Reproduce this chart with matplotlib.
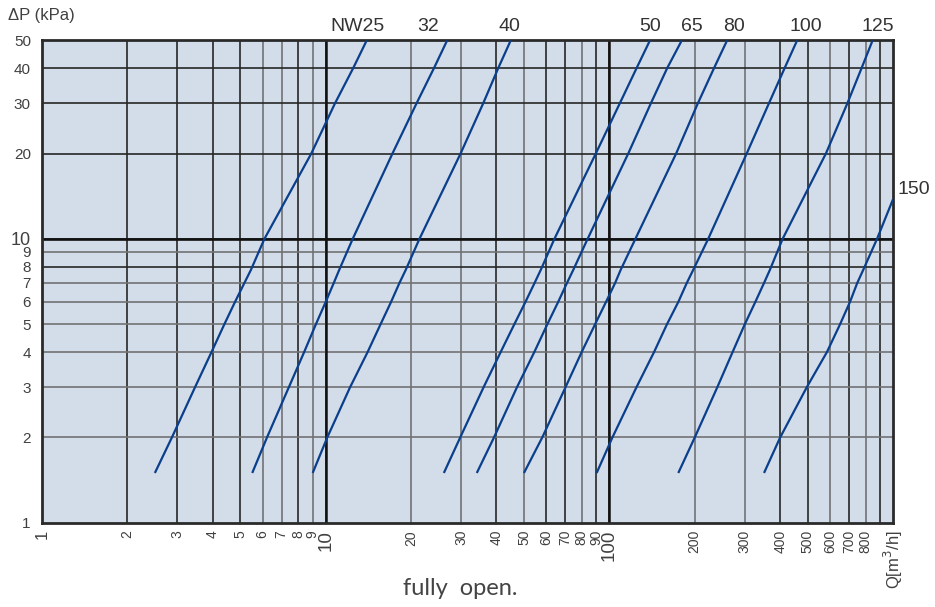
import numpy as np
import matplotlib.pyplot as plt

plt.rcParams['font.family'] = ['Liberation Sans', 'DejaVu Sans']

# pressure drop (kPa) along each curve and flow Q (m3/h)
dp_std = [1.5, 2, 3, 4, 5, 6, 7, 7.78, 10, 20, 30, 40, 50]
q_nw25 = [2.50, 2.87, 3.46, 3.96, 4.39, 4.79, 5.17, 5.45, 6.08, 8.90, 10.78, 12.51, 13.95]
q_nw32 = [5.51, 6.21, 7.41, 8.40, 9.23, 10.0, 10.68, 11.16, 12.45, 17.2, 20.9, 24.1, 26.8]
q_nw40 = [9.0, 10.13, 12.18, 14.06, 15.6, 17.0, 18.2, 19.15, 21.4, 29.9, 35.9, 40.6, 44.9]
q_nw50 = [26.1, 29.8, 36.0, 41.4, 46.2, 50.6, 54.5, 57.3, 64.0, 89.6, 108.8, 124.8, 139]
q_nw65 = [34.1, 39.2, 47.2, 54.4, 60.4, 66.0, 70.9, 74.6, 83.8, 116.6, 140, 160, 180]
q_nw80 = [50.0, 58.0, 70.0, 79.9, 89.0, 97.3, 104.8, 109.6, 123.5, 172, 205, 234, 260]
q_nw100 = [90.2, 102.5, 124.5, 143.8, 159.5, 175, 187.5, 197.5, 223, 305, 365, 415, 459]
q_nw125 = [175, 200, 240, 272, 300, 327, 351, 368, 408, 580, 690, 775, 847]
dp_150 = [1.5, 2, 3, 4, 5, 6, 7, 7.78, 10, 13.8]
q_nw150 = [351, 400, 496, 585, 650, 705, 748, 785, 878, 1000]

names = ["NW25", "32", "40", "50", "65", "80", "100", "125", "150"]
series = [(dp_std, q_nw25), (dp_std, q_nw32), (dp_std, q_nw40), (dp_std, q_nw50),
          (dp_std, q_nw65), (dp_std, q_nw80), (dp_std, q_nw100), (dp_std, q_nw125),
          (dp_150, q_nw150)]

x_ticks = [1, 2, 3, 4, 5, 6, 7, 8, 9, 10, 20, 30, 40, 50, 60, 70, 80, 90,
           100, 200, 300, 400, 500, 600, 700, 800, 900, 1000]
x_labels = ["1", "2", "3", "4", "5", "6", "7", "8", "9", "10", "20", "30", "40", "50",
            "60", "70", "80", "90", "100", "200", "300", "400", "500", "600", "700",
            "800", "", "Q[m$^3$/h]"]
y_ticks = [1, 2, 3, 4, 5, 6, 7, 8, 9, 10, 20, 30, 40, 50]
y_labels = ["1", "2", "3", "4", "5", "6", "7", "8", "9", "10", "20", "30", "40", "50"]

fig = plt.figure(figsize=(9.35, 6.07), dpi=100)
ax = fig.add_axes([0.0449, 0.1384, 0.9102, 0.7949])
ax.set_xscale('log')
ax.set_yscale('log')
ax.set_xlim(1, 1000)
ax.set_ylim(1, 50)
ax.set_facecolor('#d3ddea')

# grid
dark = '#262626'
grey = '#727272'
x_grey = [6, 7, 9, 20, 30, 50, 80, 200, 300, 600, 800]
y_grey = [2, 3, 4, 5, 6, 7, 9]
for v in x_ticks[1:-1]:
    ax.axvline(v, color=grey if v in x_grey else dark, lw=1.2, zorder=1)
for v in y_ticks[1:-1]:
    ax.axhline(v, color=grey if v in y_grey else dark, lw=1.2, zorder=1)
for v in [10, 100]:
    ax.axvline(v, color='#111111', lw=1.8, zorder=1)
ax.axhline(10, color='#111111', lw=1.9, zorder=1)

for dp, q in series:
    ax.plot(q, dp, color='#0a3f8c', lw=1.6, zorder=3, solid_capstyle='butt')

for s in ax.spines.values():
    s.set_color('#2a2a2a')
    s.set_linewidth(2)

ax.minorticks_off()
ax.set_xticks(x_ticks)
ax.set_xticklabels(x_labels, rotation=90, va='top', ha='center')
ax.set_yticks(y_ticks)
ax.set_yticklabels(y_labels)
ax.tick_params(length=0, colors='#404040')
ax.tick_params(axis='x', pad=5, labelsize=10)
ax.tick_params(axis='y', pad=8, labelsize=11)
for t in ax.get_xticklabels():
    if t.get_text() in ("10", "100"):
        t.set_fontsize(13.5)
    elif t.get_text() == "1":
        t.set_fontsize(12)
    elif t.get_text().startswith("Q"):
        t.set_fontsize(12)
for t in ax.get_yticklabels():
    if t.get_text() == "10":
        t.set_fontsize(13)

# curve labels
label_x = [13.0, 22.9, 44.6, 139, 195, 275, 493, 885]
for n, xv in zip(names[:-1], label_x):
    ax.text(xv, 1.028, n, transform=ax.get_xaxis_transform(), ha='center', va='center',
            fontsize=14, color='#333333')
ax.text(1.005, 14.9, names[-1], transform=ax.get_yaxis_transform(), ha='left',
        va='center', fontsize=14, color='#333333')

fig.text(0.0086, 0.975, "ΔP (kPa)", ha='left', va='center', fontsize=12, color='#404040')
fig.text(0.492, 0.031, "fully  open.", ha='center', va='center', fontsize=17,
         color='#444444', family=['Lato', 'DejaVu Sans'])

fig.savefig('out.png', dpi=100)
